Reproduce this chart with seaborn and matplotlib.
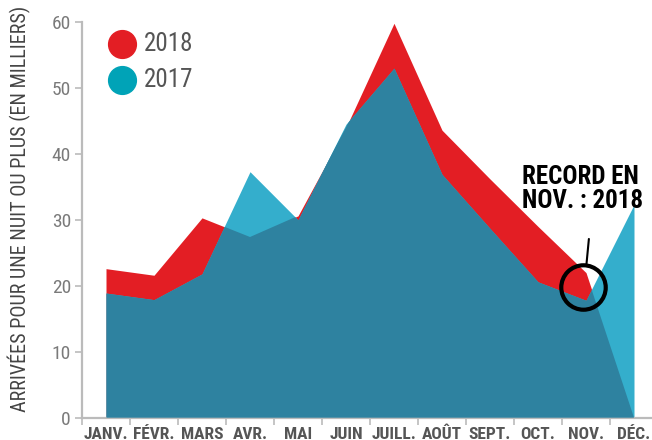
import numpy as np
import matplotlib
matplotlib.use("Agg")
import matplotlib.pyplot as plt
import seaborn as sns

# =========================
# DATA
# =========================
months = ["JANV.", "FÉVR.", "MARS", "AVR.", "MAI", "JUIN",
          "JUILL.", "AOÛT", "SEPT.", "OCT.", "NOV.", "DÉC."]
arrivals_2018 = [22.6, 21.6, 30.3, 27.4, 30.6, 44.0, 59.8, 43.6, 36.2, 29.0, 22.0, 0.0]
arrivals_2017 = [18.9, 17.9, 21.8, 37.3, 30.0, 44.5, 53.0, 36.9, 28.7, 20.6, 17.8, 32.3]
y_ticks = [0, 10, 20, 30, 40, 50, 60]
years = ["2018", "2017"]

RED = "#E31E24"
TEAL = "#34AECC"
DARK = "#2E82A0"
LEGEND_TEAL = "#00A3B7"

# =========================
# STYLE
# =========================
sns.set_theme(style="ticks")
plt.rcParams["font.family"] = ["Roboto Condensed", "DejaVu Sans"]

fig = plt.figure(figsize=(6.52, 4.40), dpi=100)
ax = fig.add_axes([82 / 652, 22.3 / 440, 576 / 652, 395.7 / 440])

x = np.arange(len(months))

# red area (2018), light teal area (2017), overlap in dark teal
red_area = ax.fill_between(x, 0, arrivals_2018, color=RED, lw=0, zorder=1)
ax.fill_between(x, 0, arrivals_2017, color=TEAL, lw=0, zorder=2)
overlap = ax.fill_between(x, 0, arrivals_2017, color=DARK, lw=0, zorder=3)
overlap.set_clip_path(red_area.get_paths()[0], ax.transData)

# =========================
# AXES
# =========================
ax.set_xlim(-0.5, len(months) - 0.5)
ax.set_ylim(0, 60)
ax.set_yticks(y_ticks)
ax.set_xticks(x)
ax.set_xticklabels(months)
ax.set_xticks(np.arange(len(months) + 1) - 0.5, minor=True)

sns.despine(ax=ax, top=True, right=True)
for side in ["left", "bottom"]:
    ax.spines[side].set_color("#BBBBBB")
    ax.spines[side].set_linewidth(1.6)

ax.tick_params(axis="x", which="major", length=0, pad=15,
               labelsize=12.5, labelcolor="#555555")
ax.tick_params(axis="x", which="minor", length=5, width=1.2, color="#BBBBBB")
ax.tick_params(axis="y", length=5, width=1.2, color="#BBBBBB", pad=3,
               labelsize=14, labelcolor="#7A7A7A")
for lab in ax.get_xticklabels():
    lab.set_fontweight("bold")
    lab.set_verticalalignment("baseline")

ax.set_ylabel("ARRIVÉES POUR UNE NUIT OU PLUS (EN MILLIERS)",
              fontsize=14.5, color="#444444")
ax.yaxis.set_label_coords(-0.088, 0.527)

# =========================
# LEGEND (circles + labels)
# =========================
legend_colors = [RED, LEGEND_TEAL]
for i, (yr, col) in enumerate(zip(years, legend_colors)):
    yy = 0.944 - i * 0.091
    ax.plot([0.0694], [yy], marker="o", markersize=20, color=col,
            ls="", transform=ax.transAxes, clip_on=False, zorder=6)
    ax.text(0.107, yy, yr, fontsize=18, color="#555555",
            va="center", ha="left", transform=ax.transAxes, zorder=6)

# =========================
# ANNOTATION
# =========================
ax.plot([9.94], [19.8], marker="o", markersize=32, mfc="none",
        mec="black", mew=3, zorder=5)
ax.plot([10.06, 10.01], [27.1, 23.3], color="black", lw=1.5, zorder=5)
ax.text(8.66, 35.5, "RECORD EN", fontsize=18, fontweight="bold",
        color="black", va="baseline", ha="left", zorder=6)
ax.text(8.66, 31.8, "NOV. : 2018", fontsize=18, fontweight="bold",
        color="black", va="baseline", ha="left", zorder=6)

fig.savefig("out.png", dpi=100)
